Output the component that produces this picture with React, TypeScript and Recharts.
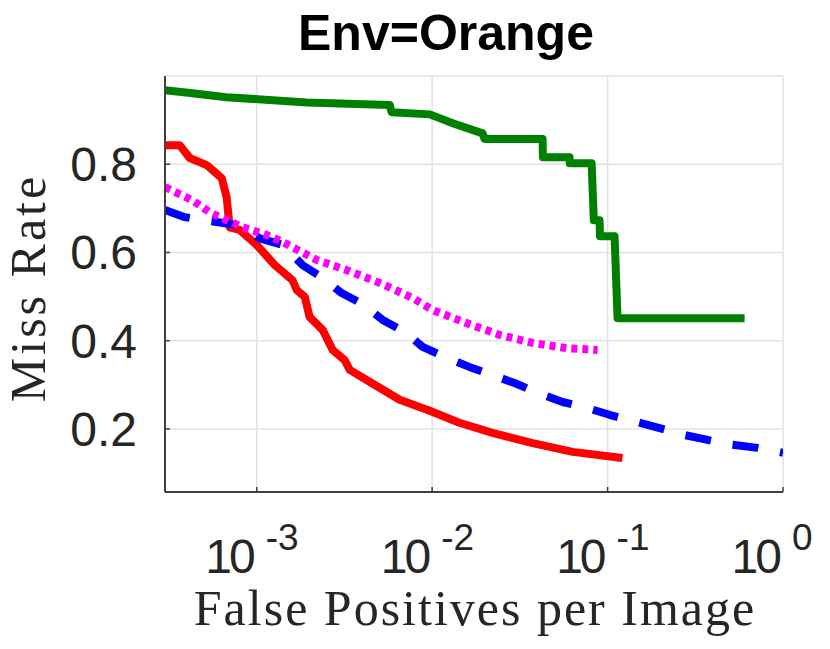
import React from 'react';
import { LineChart, Line, XAxis, YAxis, CartesianGrid } from 'recharts';

// axis ticks
const fppiTicks = [0.001, 0.01, 0.1, 1];
const missTicks = [0.2, 0.4, 0.6, 0.8];

// green (solid)
const greenFppi = [3.0e-4, 4.3e-4, 6.7e-4, 1.93e-3, 5.73e-3, 5.87e-3, 9.7e-3, 0.0131, 0.0194, 0.0199, 0.0426, 0.0428, 0.0607, 0.0609, 0.0811, 0.0835, 0.09, 0.0905, 0.1096, 0.114, 0.604];
const greenMiss = [0.968, 0.961, 0.952, 0.94, 0.934, 0.918, 0.913, 0.893, 0.87, 0.857, 0.857, 0.816, 0.816, 0.802, 0.802, 0.673, 0.673, 0.637, 0.637, 0.451, 0.451];

// red (solid)
const redFppi = [3.0e-4, 3.64e-4, 4.15e-4, 5.19e-4, 6.32e-4, 6.74e-4, 7.01e-4, 8.0e-4, 1.0e-3, 1.27e-3, 1.6e-3, 1.69e-3, 1.88e-3, 2.0e-3, 2.38e-3, 2.71e-3, 3.17e-3, 3.39e-3, 4.23e-3, 6.53e-3, 9.68e-3, 0.0143, 0.0221, 0.0374, 0.0632, 0.1216];
const redMiss = [0.843, 0.843, 0.814, 0.798, 0.768, 0.725, 0.657, 0.651, 0.617, 0.571, 0.537, 0.515, 0.499, 0.454, 0.424, 0.379, 0.356, 0.334, 0.311, 0.266, 0.241, 0.214, 0.191, 0.168, 0.148, 0.134];

// blue (dashed)
const blueFppi = [3.0e-4, 3.89e-4, 5.92e-4, 7.69e-4, 1.04e-3, 1.41e-3, 1.83e-3, 2.38e-3, 3.05e-3, 4.02e-3, 5.22e-3, 6.97e-3, 8.82e-3, 0.0118, 0.0164, 0.0221, 0.0295, 0.0399, 0.0554, 0.0759, 0.1025, 0.146, 0.198, 0.275, 0.372, 0.515, 0.716, 1.0];
const blueMiss = [0.696, 0.68, 0.669, 0.662, 0.632, 0.617, 0.571, 0.542, 0.508, 0.483, 0.447, 0.42, 0.386, 0.363, 0.34, 0.322, 0.304, 0.282, 0.261, 0.248, 0.232, 0.216, 0.202, 0.186, 0.175, 0.164, 0.157, 0.146];

// magenta (dotted)
const magentaFppi = [3.0e-4, 4.31e-4, 5.39e-4, 8.32e-4, 1.19e-3, 1.48e-3, 2.2e-3, 3.26e-3, 5.02e-3, 7.74e-3, 0.0101, 0.0157, 0.0243, 0.0374, 0.0584, 0.0877];
const magentaMiss = [0.748, 0.718, 0.691, 0.657, 0.637, 0.619, 0.583, 0.56, 0.531, 0.497, 0.469, 0.44, 0.413, 0.395, 0.383, 0.379];

const toPoints = (xs: number[], ys: number[]) => xs.map((x, i) => ({ fppi: x, miss: ys[i] }));

const textColor = '#262626';
const sans = '"Liberation Sans", Arial, Helvetica, sans-serif';
const serif = '"Liberation Serif", "Times New Roman", serif';

const FppiTick = ({ x, y, payload }: any) => {
  const exp = Math.round(Math.log10(payload.value));
  return (
    <g>
      <text x={x - 4} y={y + 81} textAnchor="end" fontSize={48} fontFamily={sans} fill={textColor} letterSpacing={-3}>
        10
      </text>
      <text x={x + 9} y={y + 58} textAnchor="start" fontSize={37} fontFamily={sans} fill={textColor}>
        {exp}
      </text>
    </g>
  );
};

const MissTick = ({ x, y, payload }: any) => (
  <text x={x} y={y + 17} textAnchor="end" fontSize={48} fontFamily={sans} fill={textColor}>
    {payload.value.toFixed(1)}
  </text>
);

export default function App() {
  const lineProps = {
    type: 'linear' as const,
    dataKey: 'miss',
    dot: false,
    activeDot: false,
    isAnimationActive: false,
    strokeWidth: 8,
    strokeLinecap: 'butt' as const,
    strokeLinejoin: 'round' as const,
  };
  return (
    <div style={{ position: 'absolute', left: 0, top: 0, width: 830, height: 649, background: '#fff' }}>
      <LineChart width={830} height={649} margin={{ top: 76, right: 47, left: 0, bottom: 0 }}>
        <CartesianGrid stroke="#e2e2e2" strokeWidth={1.5} />
        <XAxis
          dataKey="fppi"
          type="number"
          scale="log"
          domain={[3e-4, 1]}
          ticks={fppiTicks}
          allowDataOverflow
          height={157}
          tickSize={-5}
          tickMargin={5}
          tick={<FppiTick />}
          stroke="#404040"
          axisLine={{ stroke: '#404040', strokeWidth: 2 }}
          tickLine={{ stroke: '#404040', strokeWidth: 1.5 }}
        />
        <YAxis
          type="number"
          domain={[0.057, 1]}
          ticks={missTicks}
          allowDataOverflow
          width={165}
          tickSize={-5}
          tickMargin={33}
          tick={<MissTick />}
          axisLine={{ stroke: '#404040', strokeWidth: 2 }}
          tickLine={{ stroke: '#404040', strokeWidth: 1.5 }}
        />
        <Line {...lineProps} data={toPoints(redFppi, redMiss)} stroke="#ff0000" />
        <Line {...lineProps} data={toPoints(greenFppi, greenMiss)} stroke="#008000" />
        <Line {...lineProps} data={toPoints(blueFppi, blueMiss)} stroke="#0000ff" strokeDasharray="26 22" />
        <Line {...lineProps} data={toPoints(magentaFppi, magentaMiss)} stroke="#ff00ff" strokeDasharray="6 5" />
      </LineChart>
      <svg width={830} height={649} style={{ position: 'absolute', left: 0, top: 0, pointerEvents: 'none' }}>
        <text x={446} y={50} textAnchor="middle" fontSize={50} fontWeight="bold" fontFamily={sans} fill="#000">
          Env=Orange
        </text>
        <text x={475} y={625} textAnchor="middle" fontSize={50} fontFamily={serif} fill={textColor} letterSpacing={2}>
          False Positives per Image
        </text>
        <text x={45} y={288} textAnchor="middle" fontSize={50} fontFamily={serif} fill={textColor} letterSpacing={3} transform="rotate(-90 45 288)">
          Miss Rate
        </text>
      </svg>
    </div>
  );
}
